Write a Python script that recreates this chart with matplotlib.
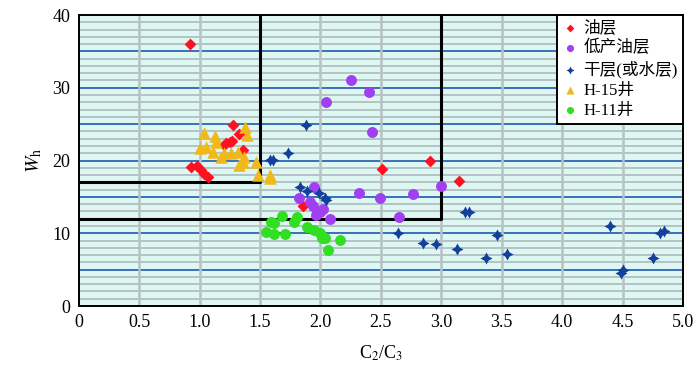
import matplotlib
matplotlib.use("Agg")
import matplotlib.pyplot as plt
import numpy as np

plt.rcParams['font.family'] = ['Liberation Serif', 'Noto Sans CJK SC']
plt.rcParams['mathtext.fontset'] = 'stix'

# 油层
oil_x = [0.92, 1.28, 1.33, 1.20, 1.22, 1.25, 1.27, 1.36, 0.93, 0.98, 1.01,
         1.04, 1.07, 1.86, 2.51, 2.91, 3.15]
oil_y = [36.0, 24.9, 23.7, 22.1, 22.4, 22.6, 22.7, 21.5, 19.1, 19.2, 18.7,
         18.2, 17.8, 13.8, 18.8, 20.0, 17.2]

# 低产油层
low_x = [2.25, 2.40, 2.05, 2.43, 1.95, 2.32, 2.49, 2.77, 3.00, 2.65,
         1.82, 1.91, 1.94, 2.02, 2.00, 1.96, 2.08]
low_y = [31.1, 29.4, 28.1, 23.9, 16.3, 15.6, 14.9, 15.4, 16.5, 12.3,
         14.8, 14.3, 13.8, 13.4, 12.9, 12.5, 11.9]

# 干层(或水层)
dry_x = [1.73, 1.58, 1.61, 1.88, 1.83, 1.89, 1.99, 2.04, 2.05, 3.20, 3.23,
         2.64, 2.85, 2.96, 3.13, 3.37, 3.46, 3.54, 4.40, 4.81, 4.84, 4.75,
         4.50, 4.49]
dry_y = [21.0, 20.1, 20.1, 24.9, 16.3, 15.8, 15.5, 14.8, 14.6, 12.9, 12.9,
         10.0, 8.7, 8.5, 7.8, 6.6, 9.8, 7.2, 11.0, 10.1, 10.3, 6.6,
         4.9, 4.5]

# H-15井
h15_x = [1.04, 1.13, 1.14, 1.00, 1.05, 1.11, 1.18, 1.20, 1.26, 1.32, 1.38,
         1.39, 1.37, 1.36, 1.33, 1.47, 1.48, 1.58, 1.58]
h15_y = [23.8, 23.4, 22.5, 21.7, 21.8, 21.2, 20.5, 21.0, 21.0, 21.2, 24.6,
         23.5, 20.5, 19.8, 19.4, 19.8, 18.0, 18.0, 17.6]

# H-11井
h11_x = [1.55, 1.59, 1.62, 1.62, 1.68, 1.71, 1.78, 1.81, 1.89, 1.95, 2.00,
         2.01, 2.04, 2.16, 2.06]
h11_y = [10.2, 11.5, 11.4, 9.9, 12.4, 9.9, 11.5, 12.3, 10.9, 10.5, 10.0,
         9.3, 9.3, 9.1, 7.7]

# boundaries of the zones
x_cut1, y_cut1 = 1.5, 17
x_cut2, y_cut2 = 3.0, 12

fig = plt.figure(figsize=(7, 3.88), dpi=100)
ax = fig.add_axes([0.1124, 0.2113, 0.8633, 0.75])
ax.set_facecolor('#def7f3')

# grid lines
for v in range(1, 40):
    if v % 5 == 0:
        ax.axhline(v, color='#3a6fba', lw=1.4, zorder=1)
    else:
        ax.axhline(v, color='#b3c3c3', lw=1.4, zorder=1)
for v in np.arange(0.5, 5.0, 0.5):
    ax.axvline(v, color='#b5c3c3', lw=1.8, zorder=1)

# zone boundaries
ax.plot([0, x_cut1, x_cut1], [y_cut1, y_cut1, 40], color='black', lw=2.2, zorder=2)
ax.plot([0, x_cut2, x_cut2], [y_cut2, y_cut2, 40], color='black', lw=2.2, zorder=2)

ax.scatter(oil_x, oil_y, marker='D', s=36, color='#ff1020', lw=0, zorder=3, label='油层')
ax.scatter(low_x, low_y, marker='o', s=62, color='#a040f0', lw=0, zorder=3, label='低产油层')
ax.scatter(dry_x, dry_y, marker=(4, 1, 0), s=75, color='#12409a', lw=0, zorder=3, label='干层(或水层)')
ax.scatter(h15_x, h15_y, marker='^', s=80, color='#f0b818', lw=0, zorder=3, label='H-15井')
ax.scatter(h11_x, h11_y, marker='o', s=62, color='#30e020', lw=0, zorder=3, label='H-11井')

ax.set_xlim(0, 5)
ax.set_ylim(0, 40)
ax.set_xticks(np.arange(0, 5.01, 0.5))
ax.set_xticklabels(['0'] + [f'{v:.1f}' for v in np.arange(0.5, 5.01, 0.5)])
ax.set_yticks([0, 10, 20, 30, 40])
ax.tick_params(length=0, labelsize=13, pad=6)
for s in ax.spines.values():
    s.set_linewidth(1.4)

ax.set_xlabel(r'C$_2$/C$_3$', fontsize=13, labelpad=9)
ax.set_ylabel(r'$W_{\rm h}$', fontsize=14, labelpad=6)

leg = ax.legend(loc='upper right', borderaxespad=0, fancybox=False,
                edgecolor='black', framealpha=1, fontsize=12, markerscale=0.65,
                handletextpad=0.3, labelspacing=0.25, borderpad=0.3,
                handlelength=1.0)
leg.get_frame().set_linewidth(1.4)

fig.savefig('out.png', dpi=100)
